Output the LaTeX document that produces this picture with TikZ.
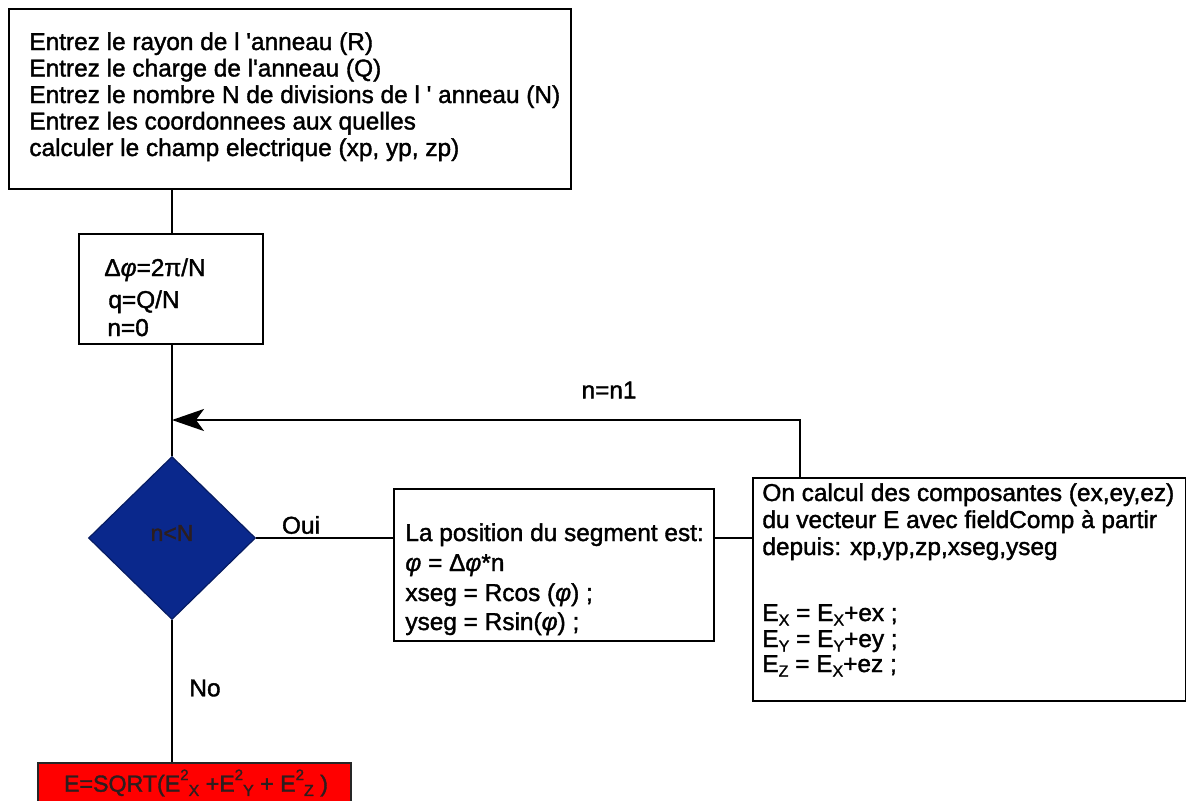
\documentclass[tikz,border=0pt]{standalone}
\usepackage{fontspec}
\newfontfamily\myfont{Liberation Sans}[FakeBold=1.5]
\usetikzlibrary{shapes.geometric,arrows.meta}
\definecolor{navy}{RGB}{10,40,140}
\definecolor{redfill}{RGB}{255,0,0}
\definecolor{dtext}{RGB}{45,30,30}
\newcommand\mysub[1]{\raisebox{-0.35ex}{\fontsize{8}{8}\selectfont #1}}
\newcommand\mysup[1]{\raisebox{0.95ex}{\fontsize{7.5}{7.5}\selectfont #1}}
\newcommand\vphi{{\itshape φ}}
\begin{document}
\begin{tikzpicture}[x=0.5pt,y=-0.5pt,
  box/.style={draw, line width=1.1pt, inner sep=0pt, fill=white, anchor=north west},
  txt/.style={anchor=base west, inner sep=0pt, font=\myfont\fontsize{12.2}{12.2}\selectfont},
  lbl/.style={inner sep=0pt, font=\myfont\fontsize{12.2}{12.2}\selectfont},
  ln/.style={line width=1.2pt}]
\useasboundingbox (0,0) rectangle (1186,800);
% boxes
\node[box, minimum width=281pt, minimum height=90pt] (top) at (8,8) {};
\node[box, minimum width=92pt, minimum height=55pt] (init) at (78,233) {};
\node[diamond, fill=navy, draw=navy!70!black, line width=0.6pt, minimum width=83.5pt, minimum height=81.5pt, inner sep=0pt] (cond) at (172,538) {};
\node[box, minimum width=160pt, minimum height=76pt] (pos) at (393,488) {};
\node[box, minimum width=216.5pt, minimum height=111.5pt] (comp) at (752,477) {};
\node[box, fill=redfill, draw=black!85, minimum width=156.5pt, minimum height=21pt] (res) at (37,762) {};
% connectors
\coordinate (join) at (172,420);
\draw[ln] (top.south -| cond.north) -- (init.north -| cond.north);
\draw[ln] (init.south -| cond.north) -- (cond.north);
\draw[ln,-{Stealth[length=16pt,width=11pt,inset=4pt]}] ([xshift=24pt]comp.north west) |- (join);
\draw[ln] (cond.east) -- (pos.west |- cond.east);
\draw[ln] (pos.east |- cond.east) -- (comp.west |- cond.east);
\draw[ln] (cond.south) -- (res.north -| cond.south);
% labels
\node[lbl] (oui) at (301,525) {Oui};
\node[lbl] (no) at (205,688) {No};
\node[lbl] (nn1) at (609,390) {n=n1};
\node[lbl, text=dtext, font=\myfont\fontsize{11.5}{11.5}\selectfont] (cndtxt) at (172,533) {n<N};
% top box text
\node[txt] (t1) at (29,50) {Entrez le rayon de l 'anneau (R)};
\node[txt] (t2) at (29,76.5) {Entrez le charge de l'anneau (Q)};
\node[txt] (t3) at (29,103) {Entrez le nombre N de divisions de l ' anneau (N)};
\node[txt] (t4) at (29,129.5) {Entrez les coordonnees aux quelles};
\node[txt] (t5) at (29,156) {calculer le champ electrique (xp, yp, zp)};
% init box text
\node[txt] (i1) at (104,276) {Δ\vphi=2π/N};
\node[txt] (i2) at (108,308) {q=Q/N};
\node[txt] (i3) at (107,336) {n=0};
% position box text
\node[txt] (p1) at (405,541) {La position du segment est:};
\node[txt] (p2) at (405,571) {\vphi{} = Δ\vphi*n};
\node[txt] (p3) at (405,601) {xseg = Rcos (\vphi) ;};
\node[txt] (p4) at (405,630) {yseg = Rsin(\vphi) ;};
% comp box text
\node[txt] (c1) at (762,501) {On calcul des composantes (ex,ey,ez)};
\node[txt] (c2) at (762,528) {du vecteur E avec fieldComp à partir};
\node[txt] (c3) at (762,555) {depuis: xp,yp,zp,xseg,yseg};
\node[txt] (c4) at (762,621) {E\mysub{X} = E\mysub{X}+ex ;};
\node[txt] (c5) at (762,647) {E\mysub{Y} = E\mysub{Y}+ey ;};
\node[txt] (c6) at (762,672) {E\mysub{Z} = E\mysub{X}+ez ;};
% result text
\node[lbl, text=dtext, font=\myfont\fontsize{11.6}{11.6}\selectfont] (r1) at (196,783) {E=SQRT(E\mysup{2}\mysub{X} +E\mysup{2}\mysub{Y} + E\mysup{2}\mysub{Z} )};
\end{tikzpicture}
\end{document}
